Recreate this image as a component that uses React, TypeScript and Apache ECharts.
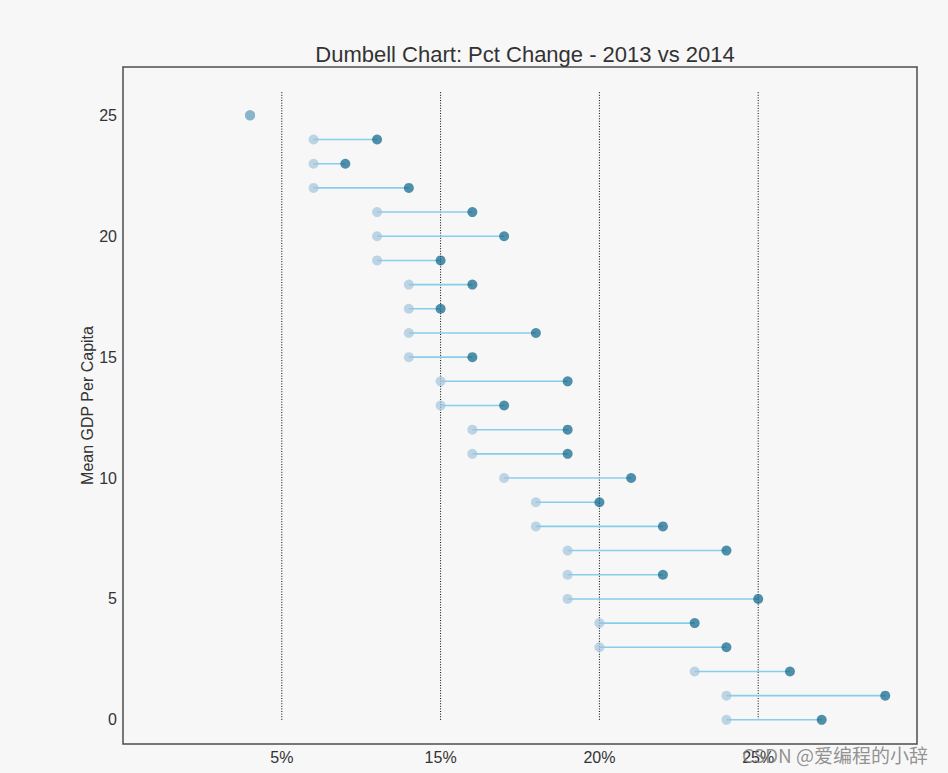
import React, { useEffect, useRef } from "react";
import * as echarts from "echarts";

// Row index (y position) of each area
const rowIndex = [0, 1, 2, 3, 4, 5, 6, 7, 8, 9, 10, 11, 12, 13, 14, 15, 16, 17, 18, 19, 20, 21, 22, 23, 24, 25];
// Light dots (left end)
const pct2014 = [0.19, 0.19, 0.18, 0.15, 0.15, 0.14, 0.14, 0.14, 0.13, 0.13, 0.12, 0.11, 0.11, 0.10, 0.10, 0.09, 0.09, 0.09, 0.09, 0.08, 0.08, 0.08, 0.06, 0.06, 0.06, 0.04];
// Dark dots (right end)
const pct2013 = [0.22, 0.24, 0.21, 0.19, 0.18, 0.20, 0.17, 0.19, 0.17, 0.15, 0.16, 0.14, 0.14, 0.12, 0.14, 0.11, 0.13, 0.10, 0.11, 0.10, 0.12, 0.11, 0.09, 0.07, 0.08, 0.04];

const xTickValues = [0.05, 0.1, 0.15, 0.2];
const xTickLabels = ["5%", "15%", "20%", "25%"];
const yTickValues = [0, 5, 10, 15, 20, 25];
const vlineX = [0.05, 0.1, 0.15, 0.2];
const vlineYRange = [0, 26];

const titleText = "Dumbell Chart: Pct Change - 2013 vs 2014";
const yAxisName = "Mean GDP Per Capita";
const watermark = "CSDN @爱编程的小辞";

const FONT = "'Liberation Sans', Arial, sans-serif";

export default function App() {
  const ref = useRef<HTMLDivElement>(null);

  useEffect(() => {
    if (!ref.current) return;
    const chart = echarts.init(ref.current, undefined, { renderer: "svg" });

    const option: any = {
      animation: false,
      backgroundColor: "#f7f7f7",
      title: {
        text: titleText,
        left: 520,
        top: 38,
        textAlign: "center",
        textStyle: { fontFamily: FONT, fontSize: 22, fontWeight: "normal", color: "#333" },
      },
      grid: {
        left: 123,
        right: 31,
        top: 67,
        bottom: 29,
        show: true,
        backgroundColor: "#f7f7f7",
        borderColor: "#4d4d4d",
        borderWidth: 1.5,
      },
      xAxis: {
        type: "value",
        min: 0,
        max: 0.25,
        interval: 0.05,
        splitLine: { show: false },
        axisTick: { show: false },
        axisLine: { show: false },
        axisLabel: {
          margin: 5,
          fontFamily: FONT,
          fontSize: 16,
          color: "#333",
          formatter: (v: number) => {
            const i = xTickValues.findIndex((t) => Math.abs(t - v) < 1e-6);
            return i >= 0 ? xTickLabels[i] : "";
          },
        },
      },
      yAxis: {
        type: "value",
        min: -1,
        max: 27,
        interval: 1,
        name: yAxisName,
        nameLocation: "middle",
        nameGap: 28,
        nameMoveOverlap: false,
        nameTextStyle: { fontFamily: FONT, fontSize: 16, color: "#333" },
        splitLine: { show: false },
        axisTick: { show: false },
        axisLine: { show: false },
        axisLabel: {
          margin: 6,
          fontFamily: FONT,
          fontSize: 16,
          color: "#333",
          formatter: (v: number) => (yTickValues.indexOf(v) >= 0 ? String(v) : ""),
        },
      },
      series: [
        {
          type: "custom",
          name: "vlines",
          data: vlineX.map((x) => [x, vlineYRange[0], vlineYRange[1]]),
          encode: { x: 0, y: [1, 2] },
          renderItem: (params: any, api: any) => {
            const p1 = api.coord([api.value(0), api.value(1)]);
            const p2 = api.coord([api.value(0), api.value(2)]);
            return {
              type: "line",
              shape: { x1: p1[0], y1: p1[1], x2: p2[0], y2: p2[1] },
              style: { stroke: "#000", lineWidth: 1, lineDash: [1, 1.6] },
            };
          },
        },
        {
          type: "scatter",
          name: "pct_2013",
          data: rowIndex.map((r, i) => [pct2013[i], r]),
          symbolSize: 10,
          itemStyle: { color: "#0e668b", opacity: 0.72 },
        },
        {
          type: "scatter",
          name: "pct_2014",
          data: rowIndex.map((r, i) => [pct2014[i], r]),
          symbolSize: 10,
          itemStyle: { color: "#a3c4dc", opacity: 0.7 },
        },
        {
          type: "custom",
          name: "segments",
          data: rowIndex.map((r, i) => [pct2014[i], pct2013[i], r]),
          encode: { x: [0, 1], y: 2 },
          renderItem: (params: any, api: any) => {
            const p1 = api.coord([api.value(0), api.value(2)]);
            const p2 = api.coord([api.value(1), api.value(2)]);
            return {
              type: "line",
              shape: { x1: p1[0], y1: p1[1], x2: p2[0], y2: p2[1] },
              style: { stroke: "#87ceeb", lineWidth: 1.6 },
            };
          },
        },
      ],
      graphic: [
        {
          type: "text",
          left: 742,
          top: 745,
          z: 100,
          style: {
            text: watermark,
            fontFamily: "'Noto Sans CJK SC', sans-serif",
            fontSize: 19,
            fill: "rgba(120,120,120,0.8)",
          },
        },
      ],
    };

    chart.setOption(option);
    return () => chart.dispose();
  }, []);

  return (
    <div
      ref={ref}
      style={{ position: "absolute", left: 0, top: 0, width: 948, height: 773 }}
    />
  );
}
